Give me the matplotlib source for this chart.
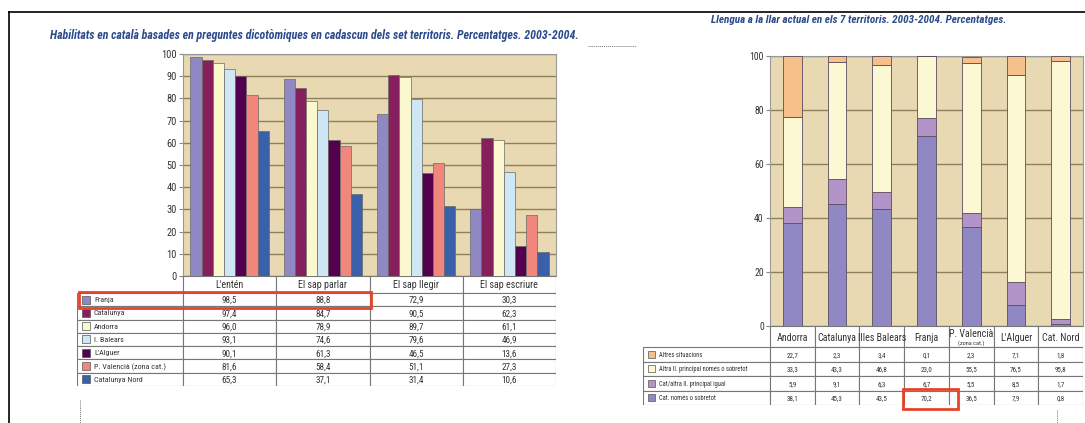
import numpy as np
import matplotlib.pyplot as plt
from matplotlib.patches import Rectangle
from matplotlib.lines import Line2D
from matplotlib import font_manager

names = {f.name for f in font_manager.fontManager.ttflist}
narrow = None
for cand in ['Liberation Sans Narrow', 'Roboto Condensed', 'Arial Narrow', 'Open Sans Condensed']:
    if cand in names:
        narrow = cand
        break
if narrow is None:
    narrow = 'Liberation Sans'
    shrink = 0.86
else:
    shrink = 1.0
plt.rcParams['font.family'] = [narrow, 'DejaVu Sans']

# --- left chart: skills by territory ---
skills = ["L'entén", "El sap parlar", "El sap llegir", "El sap escriure"]
territories = ["Franja", "Catalunya", "Andorra", "I. Balears", "L'Alguer",
               "P. Valencià (zona cat.)", "Catalunya Nord"]
franja = [98.5, 88.8, 72.9, 30.3]
catalunya = [97.4, 84.7, 90.5, 62.3]
andorra = [96.0, 78.9, 89.7, 61.1]
balears = [93.1, 74.6, 79.6, 46.9]
alguer = [90.1, 61.3, 46.5, 13.6]
valencia = [81.6, 58.4, 51.1, 27.3]
cat_nord = [65.3, 37.1, 31.4, 10.6]
skill_rows = [franja, catalunya, andorra, balears, alguer, valencia, cat_nord]
skill_colors = ['#8f88c2', '#86205c', '#fbf7cf', '#cfe6f4', '#54004e', '#f1867c', '#3a60ac']

# --- right chart: home language ---
places = ["Andorra", "Catalunya", "Illes Balears", "Franja", "P. Valencià", "L'Alguer", "Cat. Nord"]
cat_only = [38.1, 45.3, 43.5, 70.2, 36.5, 7.9, 0.8]
cat_equal = [5.9, 9.1, 6.3, 6.7, 5.5, 8.5, 1.7]
other_only = [33.3, 43.3, 46.8, 23.0, 55.5, 76.5, 95.8]
other_situations = [22.7, 2.3, 3.4, 0.1, 2.3, 7.1, 1.8]
lang_labels = ["Cat. només o sobretot", "Cat/altra ll. principal igual",
               "Altra ll. principal només o sobretot", "Altres situacions"]
lang_rows = [cat_only, cat_equal, other_only, other_situations]
lang_colors = ['#8f88c2', '#b394c9', '#fbf8d3', '#f6c08a']

W, H = 1085, 423
fig = plt.figure(figsize=(W / 100, H / 100), dpi=100)
bg = '#e8d9b2'
grid_c = '#8e7f5e'
edge_c = '#777777'
title_c = '#2b4a8c'
txt_c = '#333333'


def px_axes(x0, y0, x1, y1):
    return fig.add_axes([x0 / W, 1 - y1 / H, (x1 - x0) / W, (y1 - y0) / H])


def fmt(v):
    return f"{v:.1f}".replace('.', ',')


def draw_table(tax, cols, labels, colors, cells, xl, hh, xpx, ypx, fs_head, fs_cell, fs_lab, sw):
    n = len(labels)
    tax.set_xlim(xl, len(cols) - 0.5)
    tax.set_ylim(n, -hh)
    tax.axis('off')
    for i, c in enumerate(cols):
        tax.add_patch(Rectangle((i - 0.5, -hh), 1, hh, fc='white', ec=edge_c, lw=0.8))
        tax.text(i, -hh / 2, c, ha='center', va='center_baseline', fontsize=fs_head, color=txt_c)
    for r, lab in enumerate(labels):
        tax.add_patch(Rectangle((xl, r), -0.5 - xl, 1, fc='white', ec=edge_c, lw=0.8))
        x_sw = xl + 5 / xpx
        tax.add_patch(Rectangle((x_sw, r + 0.5 - sw / 2 / ypx), sw / xpx, sw / ypx,
                                fc=colors[r], ec='#555555', lw=0.5))
        tax.text(x_sw + (sw + 4) / xpx, r + 0.5, lab, ha='left', va='center_baseline',
                 fontsize=fs_lab, color=txt_c)
        for i in range(len(cols)):
            tax.add_patch(Rectangle((i - 0.5, r), 1, 1, fc='white', ec=edge_c, lw=0.8))
            tax.text(i, r + 0.5, fmt(cells[r][i]), ha='center', va='center_baseline',
                     fontsize=fs_cell, color=txt_c)


# ---------- left bar chart ----------
ax1 = px_axes(183, 54, 556, 276)
ax1.set_facecolor(bg)
x = np.arange(len(skills))
bw = 0.12
for j, (vals, col) in enumerate(zip(skill_rows, skill_colors)):
    ax1.bar(x + (j - 3) * bw, vals, bw, color=col, edgecolor='#6a6a6a', linewidth=0.5, zorder=3)
ax1.set_xlim(-0.5, 3.5)
ax1.set_ylim(0, 100)
ax1.set_yticks(np.arange(0, 101, 10))
ax1.set_xticks([])
ax1.yaxis.grid(True, color=grid_c, lw=1)
ax1.set_axisbelow(True)
ax1.tick_params(axis='y', labelsize=7.5 * shrink, length=3, color='#888888', labelcolor=txt_c, pad=1.5)
for s in ax1.spines.values():
    s.set_color('#999999')
    s.set_linewidth(0.8)

tax1 = px_axes(77, 276, 556, 386)
xpx1 = 373 / 4
draw_table(tax1, skills, territories, skill_colors, skill_rows,
           -0.5 - (183 - 77) / xpx1, 17 / 13.3, xpx1, 13.3,
           7.2 * shrink, 6.6 * shrink, 5.8 * shrink, 8)
tax1.add_patch(Rectangle((-0.5 - (183 - 79) / xpx1, -0.1), (371 - 79) / xpx1, 1.25,
                         fill=False, ec='#e5432b', lw=2, zorder=5, clip_on=False))

fig.text(50 / W, 1 - 35 / H, "Habilitats en català basades en preguntes dicotòmiques en cadascun "
         "dels set territoris. Percentatges. 2003-2004.", fontsize=8.6 * shrink, fontweight='bold',
         fontstyle='italic', color=title_c, va='center', ha='left')

# ---------- right stacked chart ----------
ax2 = px_axes(770, 56, 1083, 326)
ax2.set_facecolor(bg)
xr = np.arange(len(places))
bottom = np.zeros(len(places))
for vals, col in zip(lang_rows, lang_colors):
    ax2.bar(xr, vals, 0.42, bottom=bottom, color=col, edgecolor='#5a4e5e', linewidth=0.6, zorder=3)
    bottom += np.array(vals)
ax2.set_xlim(-0.5, 6.5)
ax2.set_ylim(0, 100)
ax2.set_yticks(np.arange(0, 101, 20))
ax2.set_xticks([])
ax2.yaxis.grid(True, color=grid_c, lw=1)
ax2.set_axisbelow(True)
ax2.tick_params(axis='y', labelsize=7 * shrink, length=3, color='#888888', labelcolor=txt_c, pad=1.5)
for s in ax2.spines.values():
    s.set_color('#999999')
    s.set_linewidth(0.8)

tax2 = px_axes(643, 326, 1083, 405)
xpx2 = 313 / 7
ypx2 = 14.5
hh2 = 21 / ypx2
draw_table(tax2, [p if p != "P. Valencià" else "" for p in places],
           lang_labels[::-1], lang_colors[::-1], lang_rows[::-1],
           -0.5 - (770 - 643) / xpx2, hh2, xpx2, ypx2,
           7.2 * shrink, 5.0 * shrink, 4.7 * shrink, 7)
vi = places.index("P. Valencià")
tax2.text(vi, -hh2 * 0.62, "P. Valencià", ha='center', va='center', fontsize=7.2 * shrink, color=txt_c)
tax2.text(vi, -hh2 * 0.2, "(zona cat.)", ha='center', va='center', fontsize=4.5, color=txt_c)
tax2.add_patch(Rectangle(((903 - 770) / xpx2 - 0.5, 3 - 1.5 / ypx2), 55 / xpx2, 20 / ypx2,
                         fill=False, ec='#e5432b', lw=2, zorder=5, clip_on=False))

fig.text(711 / W, 1 - 20 / H, "Llengua a la llar actual en els 7 territoris. 2003-2004. Percentatges.",
         fontsize=8.0 * shrink, fontweight='bold', fontstyle='italic', color=title_c,
         va='center', ha='left')

# ---------- page frame and dotted marks ----------
fig.add_artist(Line2D([9 / W, 1], [1 - 12 / H, 1 - 12 / H], color='black', lw=1.2))
fig.add_artist(Line2D([9 / W, 9 / W], [1 - 12 / H, 0], color='black', lw=1.2))
fig.add_artist(Line2D([588 / W, 636 / W], [1 - 46 / H, 1 - 46 / H], color='#777777', lw=0.7, ls=(0, (1, 1))))
fig.add_artist(Line2D([80 / W, 80 / W], [1 - 400 / H, 0], color='#777777', lw=0.7, ls=(0, (1, 1))))
fig.add_artist(Line2D([1057 / W, 1057 / W], [1 - 410 / H, 0], color='#777777', lw=0.7, ls=(0, (1, 1))))

fig.savefig('out.png', dpi=100)
